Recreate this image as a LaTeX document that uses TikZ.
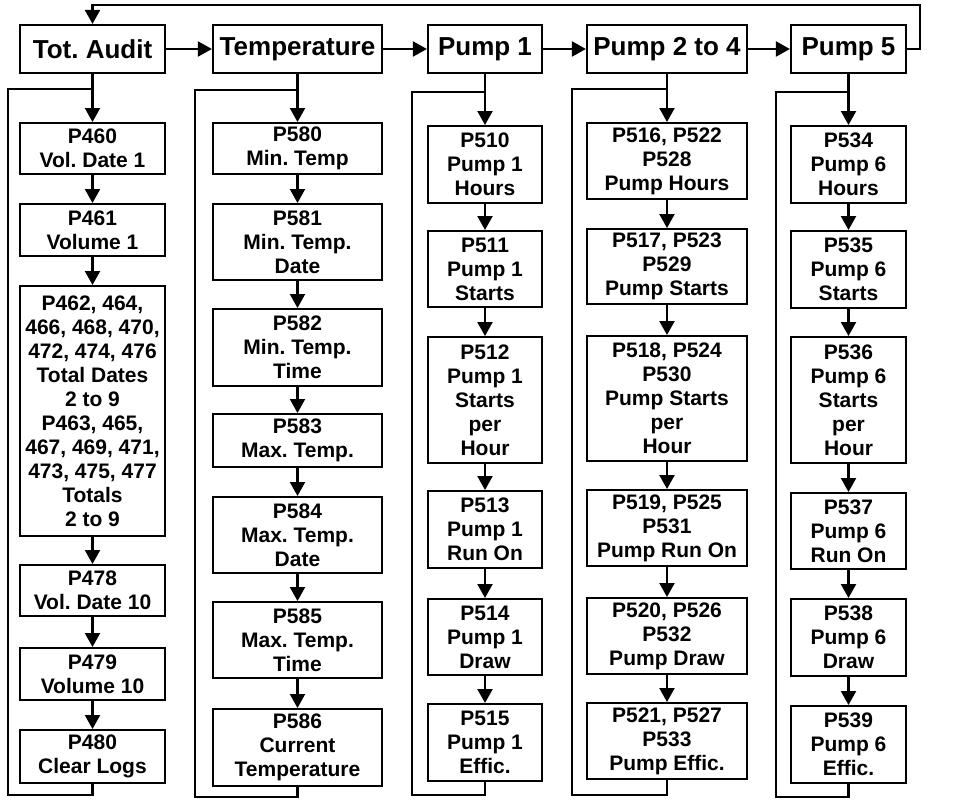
\documentclass[tikz,border=0pt]{standalone}
\usepackage{fontspec}
\setmainfont{Liberation Sans}
\usetikzlibrary{arrows.meta}
\frenchspacing

\begin{document}
\begin{tikzpicture}[x=1pt, y=-1pt, >={Triangle[length=14pt,width=15pt]},
  menu/.style={draw, line width=2.2pt, inner sep=0pt, align=center, minimum height=48pt, font=\bfseries\fontsize{26}{30}\selectfont},
  item/.style={draw, line width=2.2pt, inner sep=0pt, align=center, anchor=north, font=\bfseries\fontsize{21}{24}\selectfont},
  link/.style={line width=2.2pt}
]
  \useasboundingbox (0,0) rectangle (956,800);

  % top row
  \node[menu, minimum width=145pt] (audit) at (92.5,49) {Tot. Audit};
  \node[menu, minimum width=169pt] (temp) at (297.5,49) {Temperature};
  \node[menu, minimum width=114pt] (pump1) at (485,49) {Pump 1};
  \node[menu, minimum width=160pt] (pump24) at (667,49) {Pump 2 to 4};
  \node[menu, minimum width=115pt] (pump5) at (848.5,49) {Pump 5};

  % Tot. Audit column
  \node[item, minimum width=145pt, minimum height=51pt] (p460) at (92.5,122) {P460\\Vol. Date 1};
  \node[item, minimum width=145pt, minimum height=52pt] (p461) at (92.5,203) {P461\\Volume 1};
  \node[item, minimum width=145pt, minimum height=250pt] (p462) at (92.5,285) {P462, 464,\\466, 468, 470,\\472, 474, 476\\Total Dates\\2 to 9\\P463, 465,\\467, 469, 471,\\473, 475, 477\\Totals\\2 to 9};
  \node[item, minimum width=145pt, minimum height=51pt] (p478) at (92.5,564) {P478\\Vol. Date 10};
  \node[item, minimum width=145pt, minimum height=52pt] (p479) at (92.5,647) {P479\\Volume 10};
  \node[item, minimum width=145pt, minimum height=53pt] (p480) at (92.5,729) {P480\\Clear Logs};

  % Temperature column
  \node[item, minimum width=169pt, minimum height=51pt] (p580) at (297.5,122) {P580\\Min. Temp};
  \node[item, minimum width=169pt, minimum height=76pt] (p581) at (297.5,203) {P581\\Min. Temp.\\Date};
  \node[item, minimum width=169pt, minimum height=77pt] (p582) at (297.5,308) {P582\\Min. Temp.\\Time};
  \node[item, minimum width=169pt, minimum height=53pt] (p583) at (297.5,413) {P583\\Max. Temp.};
  \node[item, minimum width=169pt, minimum height=76pt] (p584) at (297.5,496) {P584\\Max. Temp.\\Date};
  \node[item, minimum width=169pt, minimum height=76pt] (p585) at (297.5,601) {P585\\Max. Temp.\\Time};
  \node[item, minimum width=169pt, minimum height=77pt] (p586) at (297.5,708) {P586\\Current\\Temperature};

  % Pump 1 column
  \node[item, minimum width=114pt, minimum height=77pt] (p510) at (485,125) {P510\\Pump 1\\Hours};
  \node[item, minimum width=114pt, minimum height=76pt] (p511) at (485,230) {P511\\Pump 1\\Starts};
  \node[item, minimum width=114pt, minimum height=126pt] (p512) at (485,336) {P512\\Pump 1\\Starts\\per\\Hour};
  \node[item, minimum width=114pt, minimum height=77pt] (p513) at (485,490) {P513\\Pump 1\\Run On};
  \node[item, minimum width=114pt, minimum height=76pt] (p514) at (485,598) {P514\\Pump 1\\Draw};
  \node[item, minimum width=114pt, minimum height=77pt] (p515) at (485,703) {P515\\Pump 1\\Effic.};

  % Pump 2 to 4 column
  \node[item, minimum width=160pt, minimum height=76pt] (p516) at (667,122) {P516, P522\\P528\\Pump Hours};
  \node[item, minimum width=160pt, minimum height=75pt] (p517) at (667,228) {P517, P523\\P529\\Pump Starts};
  \node[item, minimum width=160pt, minimum height=125pt] (p518) at (667,335) {P518, P524\\P530\\Pump Starts\\per\\Hour};
  \node[item, minimum width=160pt, minimum height=76pt] (p519) at (667,489) {P519, P525\\P531\\Pump Run On};
  \node[item, minimum width=160pt, minimum height=76pt] (p520) at (667,597) {P520, P526\\P532\\Pump Draw};
  \node[item, minimum width=160pt, minimum height=76pt] (p521) at (667,702) {P521, P527\\P533\\Pump Effic.};

  % Pump 5 column
  \node[item, minimum width=115pt, minimum height=77pt] (p534) at (848.5,125) {P534\\Pump 6\\Hours};
  \node[item, minimum width=115pt, minimum height=77pt] (p535) at (848.5,230) {P535\\Pump 6\\Starts};
  \node[item, minimum width=115pt, minimum height=126pt] (p536) at (848.5,336) {P536\\Pump 6\\Starts\\per\\Hour};
  \node[item, minimum width=115pt, minimum height=76pt] (p537) at (848.5,492) {P537\\Pump 6\\Run On};
  \node[item, minimum width=115pt, minimum height=77pt] (p538) at (848.5,598) {P538\\Pump 6\\Draw};
  \node[item, minimum width=115pt, minimum height=77pt] (p539) at (848.5,705) {P539\\Pump 6\\Effic.};

  % loop corners
  \coordinate (top-corner) at (920,5);
  \coordinate (audit-join) at (92.5,89);
  \coordinate (audit-back) at (8,795);
  \coordinate (temp-join) at (297.5,90);
  \coordinate (temp-back) at (195,797);
  \coordinate (pump1-join) at (485,92);
  \coordinate (pump1-back) at (412,795);
  \coordinate (pump24-join) at (667,89);
  \coordinate (pump24-back) at (572,795);
  \coordinate (pump5-join) at (848.5,92);
  \coordinate (pump5-back) at (776,797);

  % top row arrows
  \draw[link, ->] (audit) -- (temp);
  \draw[link, ->] (temp) -- (pump1);
  \draw[link, ->] (pump1) -- (pump24);
  \draw[link, ->] (pump24) -- (pump5);
  \draw[link, ->] (pump5.east) -| (top-corner) -| (audit.north);

  % Tot. Audit arrows
  \draw[link, ->] (audit) -- (p460);
  \draw[link, ->] (p460) -- (p461);
  \draw[link, ->] (p461) -- (p462);
  \draw[link, ->] (p462) -- (p478);
  \draw[link, ->] (p478) -- (p479);
  \draw[link, ->] (p479) -- (p480);
  \draw[link] (p480.south) |- (audit-back) |- (audit-join);

  % Temperature arrows
  \draw[link, ->] (temp) -- (p580);
  \draw[link, ->] (p580) -- (p581);
  \draw[link, ->] (p581) -- (p582);
  \draw[link, ->] (p582) -- (p583);
  \draw[link, ->] (p583) -- (p584);
  \draw[link, ->] (p584) -- (p585);
  \draw[link, ->] (p585) -- (p586);
  \draw[link] (p586.south) |- (temp-back) |- (temp-join);

  % Pump 1 arrows
  \draw[link, ->] (pump1) -- (p510);
  \draw[link, ->] (p510) -- (p511);
  \draw[link, ->] (p511) -- (p512);
  \draw[link, ->] (p512) -- (p513);
  \draw[link, ->] (p513) -- (p514);
  \draw[link, ->] (p514) -- (p515);
  \draw[link] (p515.south) |- (pump1-back) |- (pump1-join);

  % Pump 2 to 4 arrows
  \draw[link, ->] (pump24) -- (p516);
  \draw[link, ->] (p516) -- (p517);
  \draw[link, ->] (p517) -- (p518);
  \draw[link, ->] (p518) -- (p519);
  \draw[link, ->] (p519) -- (p520);
  \draw[link, ->] (p520) -- (p521);
  \draw[link] (p521.south) |- (pump24-back) |- (pump24-join);

  % Pump 5 arrows
  \draw[link, ->] (pump5) -- (p534);
  \draw[link, ->] (p534) -- (p535);
  \draw[link, ->] (p535) -- (p536);
  \draw[link, ->] (p536) -- (p537);
  \draw[link, ->] (p537) -- (p538);
  \draw[link, ->] (p538) -- (p539);
  \draw[link] (p539.south) |- (pump5-back) |- (pump5-join);
\end{tikzpicture}
\end{document}
